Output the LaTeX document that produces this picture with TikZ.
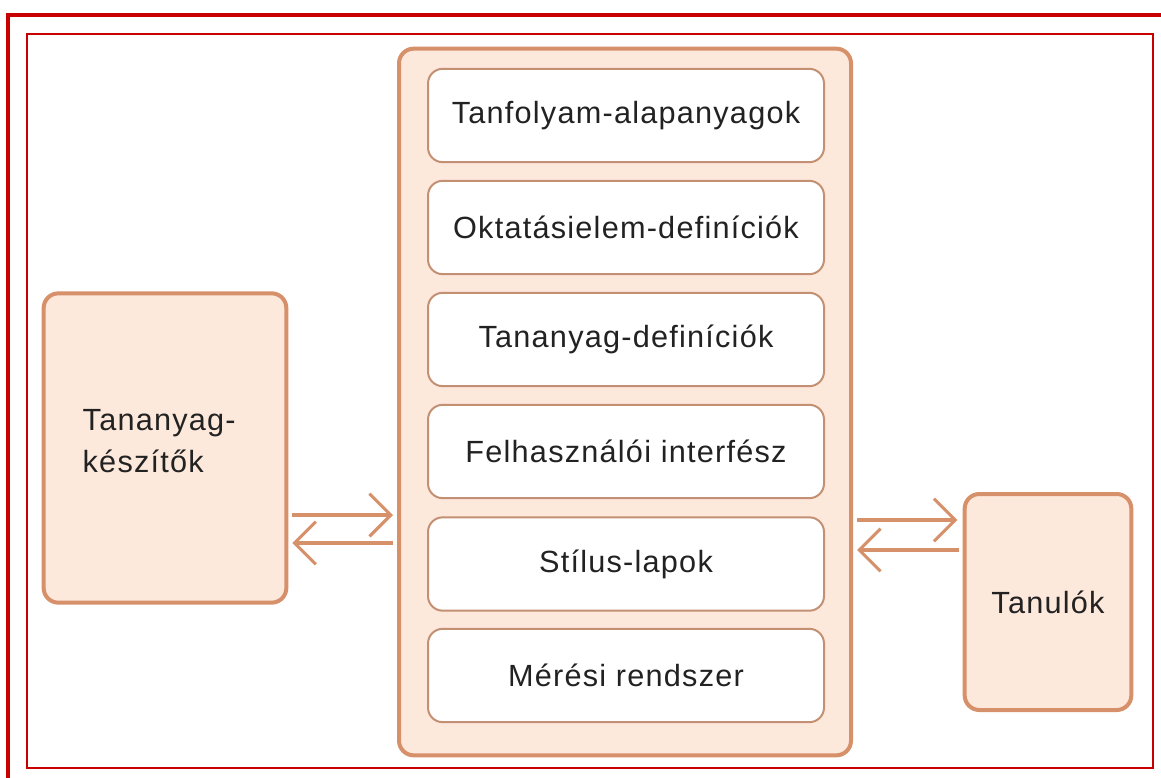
\documentclass[tikz,border=0pt]{standalone}
\usepackage{fontspec}
\setmainfont[LetterSpace=4]{Liberation Sans}
\usetikzlibrary{arrows.meta}
\definecolor{redframe}{HTML}{C80000}
\definecolor{peachline}{HTML}{D6906A}
\definecolor{peachfill}{HTML}{FDE8DC}
\definecolor{innerline}{HTML}{C39073}
\definecolor{txt}{HTML}{222222}
\tikzset{
  outerbox/.style={draw=peachline, line width=3pt, fill=peachfill, rounded corners=11pt, inner sep=0pt},
  innerbox/.style={draw=innerline, line width=1.5pt, fill=white, rounded corners=11pt,
    minimum width=297pt, minimum height=70pt, inner sep=0pt, font=\fontsize{23}{27}\selectfont, text=txt},
  flow/.style={draw=peachline, line width=2.3pt, -{Straight Barb[length=16pt,width=32pt,line width=2.3pt]}}
}
\begin{document}
\begin{tikzpicture}[x=0.75pt,y=-0.75pt]
\useasboundingbox (0,0) rectangle (1161,778);
\fill[white] (0,0) rectangle (1161,778);
\draw[redframe, line width=3pt] (8,778) -- (8,15) -- (1161,15);
\draw[redframe, line width=1.6pt] (27,34) rectangle (1153,768);

\node[outerbox, minimum width=339pt, minimum height=530pt] (core) at (625,402) {};
\node[innerbox] (b1) at (626,115.5) {Tanfolyam-alapanyagok};
\node[innerbox] (b2) at (626,227.5) {Oktatásielem-definíciók};
\node[innerbox] (b3) at (626,339.5) {Tananyag-definíciók};
\node[innerbox] (b4) at (626,451.5) {Felhasználói interfész};
\node[innerbox] (b5) at (626,564) {Stílus-lapok};
\node[innerbox] (b6) at (626,675.5) {Mérési rendszer};

\node[outerbox, minimum width=182pt, minimum height=232pt] (auth) at (165,448) {};
\node[anchor=west, align=left, text=txt, font=\fontsize{23}{31}\selectfont] (authlbl) at (78,441) {Tananyag-\\készítők};

\node[outerbox, minimum width=125pt, minimum height=162pt, text=txt, font=\fontsize{23}{27}\selectfont] (learn) at (1048,602) {Tanulók};

\coordinate (a1s) at (auth.east |- 0,515);
\coordinate (a1e) at (core.west |- 0,515);
\coordinate (a2s) at (core.west |- 0,543);
\coordinate (a2e) at (auth.east |- 0,543);
\draw[flow] ([xshift=3pt]a1s) -- ([xshift=-3pt]a1e);
\draw[flow] ([xshift=-3pt]a2s) -- ([xshift=3pt]a2e);

\coordinate (c1s) at (core.east |- 0,520);
\coordinate (c1e) at (learn.west |- 0,520);
\coordinate (c2s) at (learn.west |- 0,550);
\coordinate (c2e) at (core.east |- 0,550);
\draw[flow] ([xshift=3pt]c1s) -- ([xshift=-4pt]c1e);
\draw[flow] ([xshift=-3pt]c2s) -- ([xshift=3pt]c2e);
\end{tikzpicture}
\end{document}
